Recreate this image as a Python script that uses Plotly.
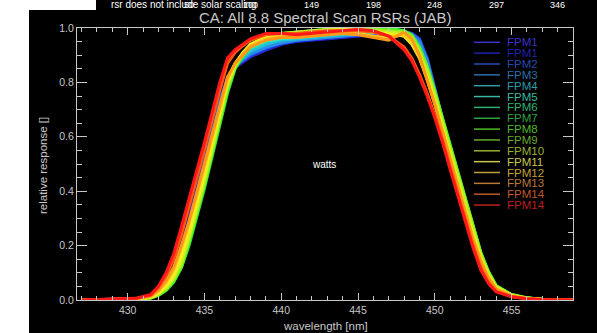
import plotly.graph_objects as go

# ---------------- data ----------------
WAVELENGTH = [427, 429, 430.5, 431.5, 432, 432.5, 433, 433.5, 434, 435, 436, 436.5, 437, 437.5,
              438, 439, 440, 441, 442, 443, 444, 445, 446, 447, 448, 448.5, 449, 449.5, 450,
              450.5, 451, 451.5, 452, 452.5, 453, 453.5, 454, 455, 456, 457, 459]

FPM_NAMES = ["FPM1", "FPM1", "FPM2", "FPM3", "FPM4", "FPM5", "FPM6", "FPM7", "FPM8",
             "FPM9", "FPM10", "FPM11", "FPM12", "FPM13", "FPM14", "FPM14"]

R01 = [0, 0.002, 0.005, 0.015, 0.036, 0.07, 0.12, 0.20, 0.30, 0.52, 0.73, 0.815, 0.855, 0.875, 0.895, 0.92, 0.94, 0.955, 0.96, 0.965, 0.97, 0.975, 0.98, 0.985, 0.985, 0.98, 0.96, 0.88, 0.77, 0.655, 0.545, 0.445, 0.345, 0.245, 0.16, 0.09, 0.045, 0.017, 0.006, 0.002, 0]
R02 = [0, 0.002, 0.005, 0.015, 0.036, 0.07, 0.12, 0.20, 0.30, 0.52, 0.735, 0.82, 0.86, 0.875, 0.895, 0.92, 0.94, 0.95, 0.955, 0.96, 0.965, 0.97, 0.975, 0.98, 0.98, 0.975, 0.955, 0.87, 0.76, 0.65, 0.54, 0.44, 0.34, 0.24, 0.155, 0.09, 0.045, 0.017, 0.006, 0.002, 0]
R03 = [0, 0.002, 0.005, 0.014, 0.034, 0.068, 0.115, 0.19, 0.29, 0.51, 0.73, 0.815, 0.86, 0.88, 0.90, 0.925, 0.945, 0.955, 0.96, 0.965, 0.97, 0.975, 0.98, 0.985, 0.985, 0.98, 0.96, 0.89, 0.78, 0.66, 0.55, 0.45, 0.34, 0.24, 0.155, 0.09, 0.045, 0.017, 0.006, 0.002, 0]
R04 = [0, 0.002, 0.004, 0.013, 0.032, 0.065, 0.11, 0.18, 0.28, 0.50, 0.72, 0.81, 0.86, 0.885, 0.905, 0.93, 0.945, 0.955, 0.96, 0.965, 0.97, 0.975, 0.98, 0.985, 0.985, 0.975, 0.95, 0.88, 0.77, 0.66, 0.55, 0.45, 0.35, 0.25, 0.16, 0.095, 0.047, 0.018, 0.007, 0.002, 0]
R05 = [0, 0.001, 0.004, 0.012, 0.03, 0.06, 0.10, 0.17, 0.27, 0.49, 0.71, 0.81, 0.86, 0.89, 0.915, 0.94, 0.955, 0.96, 0.965, 0.97, 0.975, 0.98, 0.985, 0.985, 0.98, 0.965, 0.93, 0.86, 0.76, 0.66, 0.55, 0.45, 0.35, 0.25, 0.16, 0.095, 0.048, 0.018, 0.007, 0.002, 0]
R06 = [0, 0.001, 0.003, 0.01, 0.025, 0.05, 0.09, 0.16, 0.25, 0.47, 0.70, 0.80, 0.86, 0.895, 0.925, 0.95, 0.96, 0.965, 0.97, 0.975, 0.98, 0.985, 0.985, 0.985, 0.98, 0.965, 0.92, 0.85, 0.75, 0.65, 0.55, 0.45, 0.35, 0.25, 0.16, 0.095, 0.048, 0.018, 0.007, 0.002, 0]
R07 = [0, 0.001, 0.003, 0.008, 0.02, 0.04, 0.075, 0.13, 0.22, 0.44, 0.67, 0.78, 0.855, 0.895, 0.93, 0.96, 0.97, 0.975, 0.98, 0.985, 0.99, 0.995, 1.0, 1.0, 0.99, 0.97, 0.92, 0.85, 0.76, 0.66, 0.56, 0.46, 0.36, 0.26, 0.17, 0.10, 0.05, 0.019, 0.007, 0.002, 0]
R08 = [0, 0.001, 0.002, 0.007, 0.017, 0.035, 0.066, 0.12, 0.20, 0.41, 0.64, 0.76, 0.85, 0.895, 0.93, 0.96, 0.975, 0.98, 0.985, 0.99, 0.995, 0.995, 0.995, 0.995, 0.985, 0.97, 0.925, 0.855, 0.765, 0.665, 0.565, 0.465, 0.365, 0.265, 0.17, 0.10, 0.05, 0.019, 0.007, 0.002, 0]
R09 = [0, 0.001, 0.002, 0.007, 0.018, 0.036, 0.068, 0.12, 0.21, 0.42, 0.65, 0.77, 0.855, 0.90, 0.935, 0.965, 0.98, 0.985, 0.99, 0.995, 1.0, 1.0, 1.0, 0.995, 0.99, 0.975, 0.93, 0.86, 0.77, 0.67, 0.57, 0.47, 0.37, 0.27, 0.175, 0.105, 0.053, 0.02, 0.008, 0.003, 0]
R10 = [0, 0.001, 0.003, 0.008, 0.02, 0.04, 0.075, 0.13, 0.22, 0.43, 0.66, 0.78, 0.86, 0.90, 0.935, 0.965, 0.975, 0.98, 0.985, 0.99, 0.995, 1.0, 0.995, 0.99, 0.985, 0.97, 0.92, 0.85, 0.76, 0.66, 0.56, 0.46, 0.36, 0.26, 0.17, 0.10, 0.05, 0.019, 0.007, 0.002, 0]
R11 = [0, 0.001, 0.003, 0.009, 0.022, 0.045, 0.08, 0.14, 0.23, 0.44, 0.67, 0.79, 0.86, 0.905, 0.94, 0.97, 0.98, 0.985, 0.99, 0.995, 1.0, 0.995, 0.99, 0.985, 0.98, 0.96, 0.91, 0.84, 0.75, 0.65, 0.55, 0.45, 0.35, 0.25, 0.16, 0.095, 0.048, 0.018, 0.007, 0.002, 0]
R12 = [0, 0.001, 0.003, 0.01, 0.025, 0.05, 0.09, 0.16, 0.25, 0.46, 0.69, 0.80, 0.87, 0.91, 0.94, 0.965, 0.975, 0.98, 0.985, 0.99, 0.995, 0.99, 0.985, 0.98, 0.97, 0.94, 0.89, 0.82, 0.73, 0.63, 0.53, 0.43, 0.33, 0.24, 0.155, 0.09, 0.045, 0.017, 0.006, 0.002, 0]
R13 = [0, 0.002, 0.004, 0.013, 0.032, 0.065, 0.11, 0.19, 0.28, 0.49, 0.71, 0.81, 0.87, 0.905, 0.935, 0.96, 0.97, 0.97, 0.975, 0.98, 0.985, 0.98, 0.97, 0.965, 0.975, 0.95, 0.89, 0.81, 0.72, 0.62, 0.52, 0.42, 0.32, 0.23, 0.15, 0.085, 0.042, 0.016, 0.006, 0.002, 0]
R14 = [0, 0.002, 0.005, 0.015, 0.035, 0.07, 0.12, 0.20, 0.29, 0.50, 0.72, 0.82, 0.87, 0.90, 0.93, 0.955, 0.965, 0.965, 0.97, 0.975, 0.98, 0.975, 0.965, 0.955, 0.985, 0.96, 0.90, 0.81, 0.72, 0.62, 0.52, 0.41, 0.31, 0.22, 0.14, 0.08, 0.04, 0.015, 0.006, 0.002, 0]
R15 = [0, 0.002, 0.005, 0.017, 0.045, 0.09, 0.15, 0.24, 0.34, 0.55, 0.77, 0.87, 0.91, 0.935, 0.955, 0.975, 0.98, 0.98, 0.985, 0.99, 0.99, 0.99, 0.985, 0.97, 0.93, 0.89, 0.83, 0.76, 0.68, 0.59, 0.49, 0.39, 0.29, 0.20, 0.12, 0.065, 0.032, 0.012, 0.005, 0.002, 0]
R16 = [0, 0.002, 0.006, 0.02, 0.05, 0.10, 0.17, 0.27, 0.37, 0.58, 0.80, 0.89, 0.92, 0.94, 0.96, 0.98, 0.98, 0.975, 0.98, 0.985, 0.99, 0.995, 0.99, 0.97, 0.92, 0.88, 0.82, 0.75, 0.67, 0.58, 0.48, 0.38, 0.28, 0.19, 0.11, 0.06, 0.03, 0.012, 0.005, 0.002, 0]

SERIES = [R01, R02, R03, R04, R05, R06, R07, R08, R09, R10, R11, R12, R13, R14, R15, R16]

X_TICKS = [430, 435, 440, 445, 450, 455]
Y_TICKS = [0.0, 0.2, 0.4, 0.6, 0.8, 1.0]
TOP_TICK_WL = [434, 438, 442, 446, 450, 454, 458]
TOP_TICK_LABELS = ["50", "100", "149", "198", "248", "297", "346"]

TITLE = "CA: All 8.8 Spectral Scan RSRs (JAB)"
SUBTITLE = "rsr does not include solar scaling"
X_TITLE = "wavelength [nm]"
Y_TITLE = "relative response []"
NOTE = "watts"

# ---------------- styles ----------------
LINE_COLORS = ["#4a28e0", "#2424d0", "#2058e8", "#2890e8", "#20c4d8", "#30e8c0", "#20ec84",
               "#20d840", "#50f020", "#90f020", "#c4f020", "#f0f020", "#ffc820", "#ff9818",
               "#ff5810", "#ff1818"]
LEGEND_COLORS = ["#3c32c8", "#2222aa", "#2848b0", "#2e6ea8", "#2e9aa8", "#3cb8a0", "#30b070",
                 "#30a040", "#50b828", "#68a830", "#98b030", "#c8c850", "#c0a038", "#b87838",
                 "#c05828", "#b82020"]
AXIS_COLOR = "#c8c8c8"
FONT = "Liberation Sans, Arial, sans-serif"

W, H = 597, 333
ML, MR, MT, MB = 77, 24, 28, 33
PW, PH = W - ML - MR, H - MT - MB


def pxx(x):
    return (x - ML) / PW


def pxy(y):
    return (H - MB - y) / PH


fig = go.Figure()
for name, vals, col in zip(FPM_NAMES, SERIES, LINE_COLORS):
    fig.add_trace(go.Scatter(x=WAVELENGTH, y=vals, mode="lines", name=name,
                             line=dict(color=col, width=3), showlegend=False))

shapes = [
    dict(type="rect", xref="paper", yref="paper", x0=pxx(-5), x1=pxx(29), y0=pxy(H + 5), y1=pxy(-5),
         fillcolor="white", line=dict(width=0), layer="above"),
    dict(type="rect", xref="paper", yref="paper", x0=pxx(-5), x1=pxx(96), y0=pxy(10), y1=pxy(-5),
         fillcolor="white", line=dict(width=0), layer="above"),
]
annotations = []

# manual legend
for i, (name, col) in enumerate(zip(FPM_NAMES, LEGEND_COLORS)):
    yy = pxy(42.3 + i * 10.85)
    shapes.append(dict(type="line", xref="paper", yref="paper", x0=pxx(474), x1=pxx(500),
                       y0=yy, y1=yy, line=dict(color=col, width=1.5)))
    annotations.append(dict(xref="paper", yref="paper", x=pxx(505), y=yy, text=name,
                            showarrow=False, xanchor="left", yanchor="middle",
                            font=dict(family=FONT, size=11.5, color=col)))

# top index labels
for wl, lab in zip(TOP_TICK_WL, TOP_TICK_LABELS):
    annotations.append(dict(xref="x", yref="paper", x=wl, y=pxy(5), text=lab, showarrow=False,
                            xanchor="center", yanchor="middle",
                            font=dict(family=FONT, size=9, color="white")))

annotations += [
    dict(xref="paper", yref="paper", x=pxx(184), y=pxy(4), text=SUBTITLE, showarrow=False,
         xanchor="center", yanchor="middle", font=dict(family=FONT, size=10, color="white")),
    dict(xref="paper", yref="paper", x=pxx(325), y=pxy(18), text=TITLE, showarrow=False,
         xanchor="center", yanchor="middle", font=dict(family=FONT, size=15, color=AXIS_COLOR)),
    dict(xref="paper", yref="paper", x=pxx(325), y=pxy(326), text=X_TITLE, showarrow=False,
         xanchor="center", yanchor="middle", font=dict(family=FONT, size=11.5, color=AXIS_COLOR)),
    dict(xref="paper", yref="paper", x=pxx(43), y=pxy(166), text=Y_TITLE, showarrow=False,
         textangle=-90, xanchor="center", yanchor="middle",
         font=dict(family=FONT, size=11.5, color=AXIS_COLOR)),
    dict(xref="x", yref="y", x=442.8, y=0.5, text=NOTE, showarrow=False,
         xanchor="center", yanchor="middle", font=dict(family=FONT, size=10, color="white")),
]

fig.update_layout(
    width=W, height=H, autosize=False,
    margin=dict(l=ML, r=MR, t=MT, b=MB, pad=0),
    paper_bgcolor="black", plot_bgcolor="black",
    showlegend=False,
    shapes=shapes, annotations=annotations,
    xaxis=dict(range=[426.7, 459.0], tickmode="array", tickvals=X_TICKS,
               ticktext=[str(v) for v in X_TICKS],
               ticks="inside", ticklen=7, tickwidth=1, tickcolor=AXIS_COLOR,
               minor=dict(ticks="inside", dtick=1, tick0=430, ticklen=4, tickcolor=AXIS_COLOR,
                          showgrid=False),
               showline=True, linecolor=AXIS_COLOR, linewidth=1, mirror="ticks",
               showgrid=False, zeroline=False, automargin=False,
               tickfont=dict(family=FONT, size=10.5, color=AXIS_COLOR)),
    yaxis=dict(range=[0, 1], tickmode="array", tickvals=Y_TICKS,
               ticktext=[f"{v:.1f}" for v in Y_TICKS],
               ticks="inside", ticklen=10, tickwidth=1, tickcolor=AXIS_COLOR,
               minor=dict(ticks="inside", dtick=0.05, tick0=0, ticklen=5, tickcolor=AXIS_COLOR,
                          showgrid=False),
               showline=True, linecolor=AXIS_COLOR, linewidth=1, mirror="ticks",
               showgrid=False, zeroline=False, automargin=False,
               tickfont=dict(family=FONT, size=10.5, color=AXIS_COLOR)),
)

fig.write_html("out.html", config={"displayModeBar": False},
               post_script="document.body.style.margin='0px';document.body.style.overflow='hidden';")
